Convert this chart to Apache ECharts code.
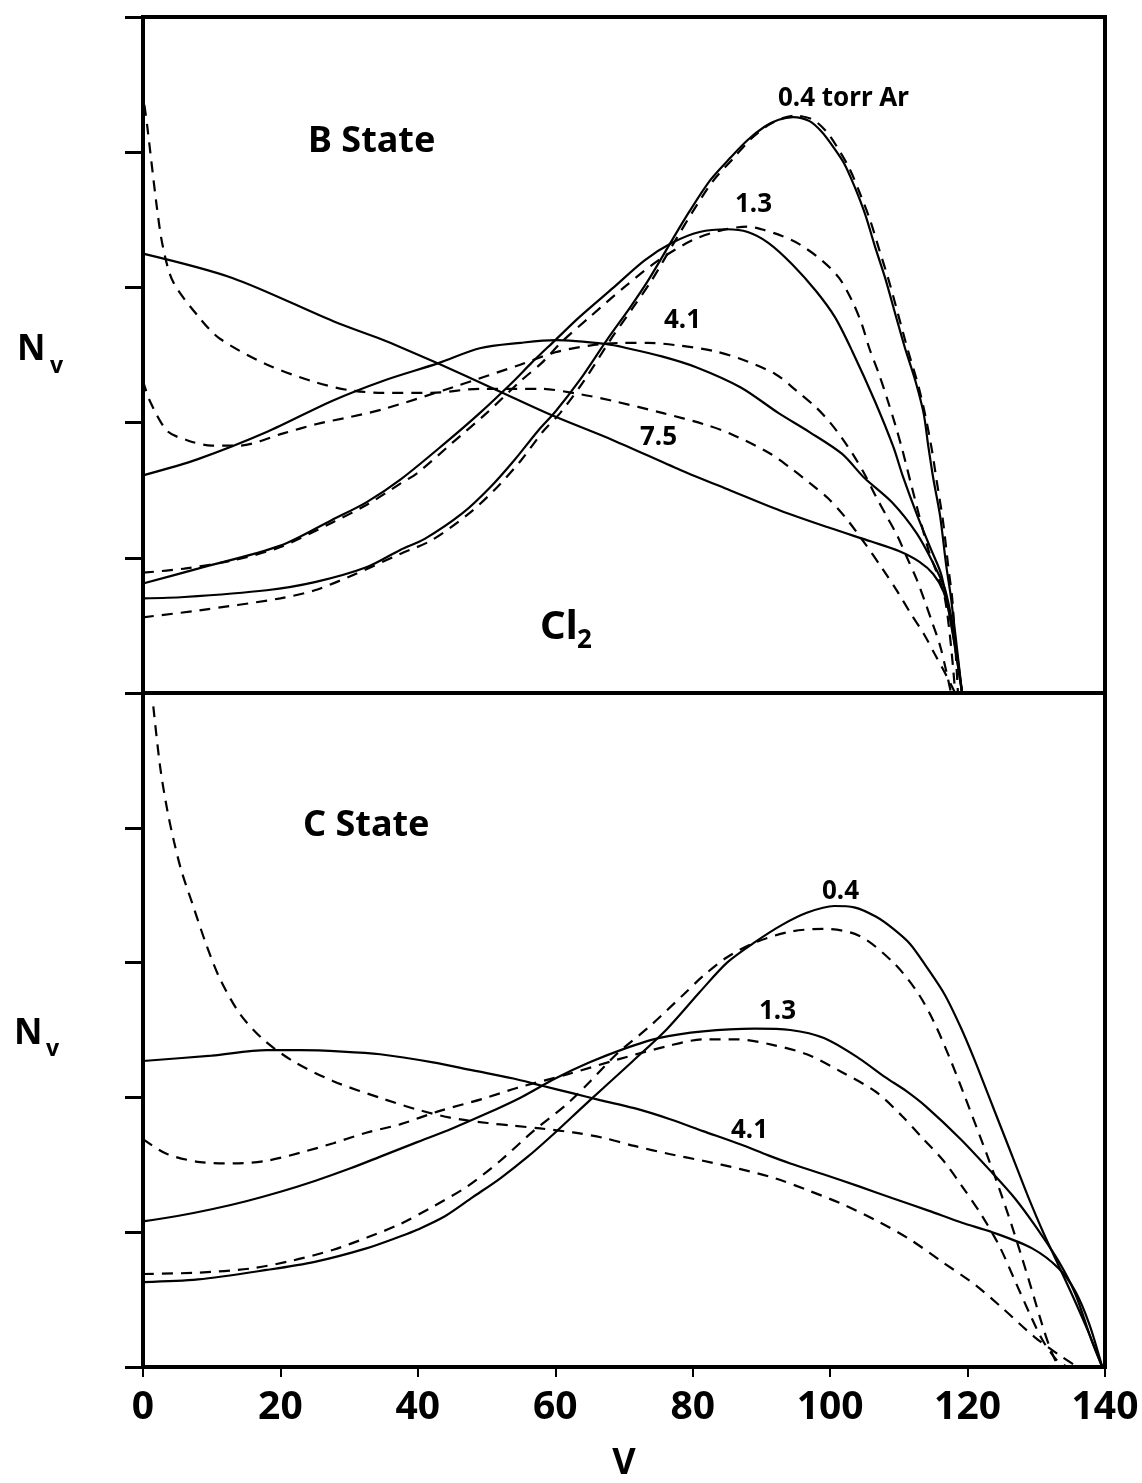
<!DOCTYPE html>
<html><head><meta charset="utf-8">
<script src="https://cdn.jsdelivr.net/npm/echarts@6/dist/echarts.min.js"></script>
<style>html,body{margin:0;padding:0;background:#fff}#c{width:1142px;height:1483px}</style>
</head><body><div id="c"></div>
<script>
// ---- axis settings ----
const xTicks = [0, 20, 40, 60, 80, 100, 120, 140];
const yTicks = [0, 1, 2, 3, 4, 5];

// ---- B State (top panel), [v, Nv] ----
const B_solid_04 = [[0,0.70],[6,0.71],[18,0.76],[25,0.82],[32.5,0.93],[37.5,1.06],[41,1.14],[46.5,1.33],[50.5,1.52],[54,1.72],[57.5,1.94],[60,2.08],[63.5,2.31],[67.5,2.61],[71,2.86],[73.5,3.05],[77,3.35],[79.5,3.56],[82.5,3.79],[85.5,3.96],[88,4.09],[90.5,4.19],[92.5,4.24],[94.6,4.26],[97,4.23],[98.8,4.15],[100.3,4.05],[102,3.92],[103.6,3.74],[105.1,3.54],[106.6,3.29],[108,3.07],[109.5,2.80],[110.9,2.55],[112.4,2.31],[113.6,2.07],[114.3,1.82],[115,1.59],[116,1.31],[116.9,0.94],[117.6,0.70],[119.2,0]];
const B_dash_04 = [[0,0.56],[8,0.61],[20,0.70],[25,0.76],[30,0.86],[37.5,1.03],[42,1.13],[47.5,1.33],[51.5,1.52],[55,1.72],[58.3,1.94],[60.7,2.07],[64.2,2.31],[68,2.61],[71.3,2.85],[74,3.05],[77.5,3.35],[80,3.56],[83,3.79],[86,3.96],[88.5,4.10],[91,4.20],[93,4.25],[95,4.27],[97.5,4.24],[99.5,4.15],[101,4.04],[102.8,3.88],[104.3,3.70],[105.8,3.50],[107.2,3.27],[108.6,3.04],[110,2.78],[111.4,2.52],[112.8,2.28],[113.9,2.04],[114.8,1.80],[115.5,1.57],[116.4,1.28],[117.2,0.93],[117.8,0.68],[118.6,0]];
const B_solid_13 = [[0,0.81],[8,0.92],[20,1.09],[27.5,1.28],[32.5,1.41],[37.5,1.58],[44,1.85],[49,2.07],[54,2.31],[56.5,2.44],[60,2.61],[63.5,2.78],[68.5,3.00],[73,3.20],[77,3.33],[81,3.41],[85,3.43],[88,3.41],[91,3.33],[94.5,3.17],[98,2.97],[100.7,2.78],[103.2,2.53],[106.5,2.16],[109.2,1.82],[110.6,1.60],[112.7,1.31],[114.7,1.06],[116.2,0.87],[117.8,0.45],[119.2,0]];
const B_dash_13 = [[0,0.89],[6,0.92],[13,0.98],[20,1.08],[27.5,1.26],[32.5,1.39],[37.5,1.55],[40,1.63],[45,1.85],[50,2.07],[55,2.31],[58,2.44],[61,2.60],[65,2.78],[70,3.00],[75,3.20],[80,3.35],[84,3.42],[88,3.45],[90,3.43],[93,3.38],[95.5,3.32],[98.8,3.20],[101.3,3.07],[103.2,2.90],[104.6,2.73],[105.7,2.55],[107.1,2.36],[108.4,2.16],[109.5,1.98],[110.5,1.80],[111.8,1.54],[114.3,1.06],[116.7,0.70],[118.2,0]];
const B_solid_41 = [[0,1.61],[8,1.73],[18,1.93],[27.5,2.16],[35,2.31],[43,2.44],[49,2.55],[55,2.59],[60,2.61],[67.5,2.58],[70.5,2.55],[75.5,2.49],[80.5,2.41],[87,2.26],[92.5,2.07],[97,1.93],[101.7,1.77],[105,1.59],[109,1.41],[112.6,1.18],[115.1,0.95],[116.7,0.77],[118,0.45],[119.2,0]];
const B_dash_41 = [[0,2.31],[1,2.16],[3.5,1.94],[6.4,1.87],[10,1.83],[14,1.83],[20.4,1.92],[25.3,1.99],[30,2.04],[35,2.10],[45,2.26],[55,2.43],[60,2.52],[65,2.57],[70,2.59],[73.5,2.59],[78,2.57],[83,2.53],[87,2.47],[92,2.36],[95,2.24],[98,2.11],[100,2.00],[101.8,1.88],[103.5,1.75],[105,1.62],[106.7,1.45],[108.2,1.31],[109.8,1.16],[111.2,1.00],[112.6,0.84],[113.7,0.69],[114.8,0.53],[116,0.35],[116.9,0.16],[117.6,0]];
const B_solid_75 = [[0,3.25],[13,3.07],[27.7,2.75],[34.5,2.62],[37.4,2.56],[42.8,2.44],[51.5,2.24],[59.7,2.05],[68.4,1.87],[78.2,1.65],[85.4,1.50],[92.7,1.35],[100,1.22],[106,1.12],[110,1.05],[113,0.97],[115,0.88],[116.5,0.75],[117.5,0.55],[119.2,0]];
const B_dash_75 = [[0.2,4.35],[0.6,4.20],[2,3.60],[2.9,3.30],[4.4,3.04],[8.3,2.77],[11.2,2.62],[18,2.43],[25,2.30],[30,2.24],[35,2.22],[42,2.22],[49,2.25],[57.8,2.25],[63.6,2.21],[68.4,2.16],[75.7,2.07],[81.5,1.99],[85.4,1.92],[91.3,1.77],[94.6,1.65],[97.1,1.55],[99.7,1.44],[102.2,1.30],[105,1.11],[107.6,0.92],[109.8,0.75],[111.7,0.59],[113.6,0.44],[115.2,0.29],[116.7,0.15],[118.2,0]];

// ---- C State (bottom panel), [v, Nv] ----
const C_solid_04 = [[0,0.63],[8,0.65],[18,0.72],[25,0.78],[32.5,0.88],[37.5,0.97],[40,1.02],[44,1.12],[48,1.26],[52,1.40],[56,1.56],[60,1.74],[64,1.93],[67,2.07],[71.3,2.27],[76.3,2.51],[81,2.78],[85,3.00],[89,3.15],[93,3.28],[96.6,3.37],[100.6,3.42],[103.5,3.41],[106.7,3.34],[109.2,3.25],[111.6,3.14],[114,2.97],[116.7,2.76],[119,2.52],[121,2.28],[123,2.02],[125,1.76],[127,1.50],[129,1.24],[131,1.00],[133,0.78],[135,0.56],[137.5,0.27],[139.6,0]];
const C_dash_04 = [[0,0.69],[8,0.70],[15.6,0.73],[21.8,0.79],[27.7,0.87],[32.6,0.96],[37.4,1.06],[42.2,1.19],[47.2,1.34],[52,1.53],[56.8,1.75],[61.7,1.95],[65.1,2.12],[68.9,2.32],[73.8,2.53],[78.6,2.76],[81.5,2.90],[85,3.04],[89.1,3.15],[94.2,3.23],[99.1,3.25],[104.2,3.20],[109.2,3.00],[112.7,2.78],[115.1,2.56],[117.5,2.28],[119.5,2.02],[121.3,1.78],[123,1.55],[124.7,1.31],[126.3,1.07],[127.8,0.83],[129.3,0.58],[130.7,0.34],[132,0.14],[133.2,0]];
const C_solid_13 = [[0,1.08],[5,1.12],[10,1.17],[15,1.23],[20,1.30],[25,1.38],[30,1.47],[35,1.57],[40,1.67],[45,1.77],[50,1.88],[55,2.00],[60,2.14],[65,2.26],[70,2.36],[75,2.44],[81.5,2.49],[89,2.51],[94.2,2.50],[99.1,2.44],[104.2,2.29],[108,2.15],[111,2.05],[114,1.93],[119,1.69],[123.6,1.44],[126.9,1.25],[129.8,1.05],[133.3,0.78],[135.7,0.54],[138.1,0.19],[139.6,0]];
const C_dash_13 = [[0,1.69],[3.5,1.58],[8.3,1.52],[13.1,1.51],[18,1.53],[22.9,1.59],[27.7,1.66],[32.6,1.74],[37.4,1.80],[43.2,1.90],[49.5,1.99],[54.4,2.07],[61.7,2.17],[69,2.28],[76.3,2.38],[81.5,2.43],[86.6,2.43],[91.6,2.39],[96.6,2.32],[101.6,2.19],[106.7,2.04],[110.5,1.86],[113.4,1.70],[116.5,1.53],[119.2,1.34],[122,1.13],[124.6,0.90],[126.9,0.64],[129,0.40],[130.9,0.20],[133,0.05],[134.5,0]];
const C_solid_41 = [[0,2.27],[10,2.31],[18,2.35],[22.9,2.35],[29,2.34],[34.5,2.32],[42.2,2.26],[48,2.20],[53.9,2.14],[57.8,2.09],[62.6,2.03],[66.5,1.98],[71.5,1.92],[76.6,1.84],[81.5,1.75],[87,1.65],[91,1.57],[94.2,1.51],[99,1.43],[104.2,1.34],[109.2,1.25],[114.3,1.16],[119.2,1.07],[123.6,1.00],[129.4,0.88],[133.3,0.73],[135.7,0.56],[137.7,0.32],[139.6,0]];
const C_dash_41 = [[1.5,4.90],[2.5,4.45],[3.5,4.14],[4.5,3.90],[5.6,3.68],[7.3,3.42],[9.3,3.12],[11.2,2.88],[14.1,2.62],[17.5,2.43],[21.8,2.27],[27.7,2.12],[34.9,1.99],[39.9,1.91],[44.7,1.85],[50.1,1.81],[53.9,1.79],[57.8,1.77],[62.6,1.74],[67,1.70],[71.5,1.64],[76.6,1.58],[81.5,1.53],[86.8,1.47],[92,1.40],[96.8,1.31],[101.7,1.21],[106.6,1.09],[111.5,0.95],[116.3,0.78],[121.1,0.61],[125,0.44],[129.8,0.22],[133.3,0.09],[136,0]];

// ---- text ----
const panelTitles = ['B State', 'C State'];
const curveLabelsB = ['0.4 torr Ar', '1.3', '4.1', '7.5'];
const curveLabelsC = ['0.4', '1.3', '4.1'];

const FONT = '"Noto Sans", "DejaVu Sans", sans-serif';
const chart = echarts.init(document.getElementById('c'), null, {renderer: 'canvas'});

function mk(name, data, dashed, gi) {
  return {
    type: 'line', name: name, data: data, xAxisIndex: gi, yAxisIndex: gi,
    symbol: 'none', smooth: 0.3, silent: true,
    lineStyle: {color: '#000', width: 2.2, type: dashed ? [11, 8] : 'solid'}
  };
}

const series = [
  mk('B 0.4 solid', B_solid_04, false, 0), mk('B 0.4 dashed', B_dash_04, true, 0),
  mk('B 1.3 solid', B_solid_13, false, 0), mk('B 1.3 dashed', B_dash_13, true, 0),
  mk('B 4.1 solid', B_solid_41, false, 0), mk('B 4.1 dashed', B_dash_41, true, 0),
  mk('B 7.5 solid', B_solid_75, false, 0), mk('B 7.5 dashed', B_dash_75, true, 0),
  mk('C 0.4 solid', C_solid_04, false, 1), mk('C 0.4 dashed', C_dash_04, true, 1),
  mk('C 1.3 solid', C_solid_13, false, 1), mk('C 1.3 dashed', C_dash_13, true, 1),
  mk('C 4.1 solid', C_solid_41, false, 1), mk('C 4.1 dashed', C_dash_41, true, 1)
];

function yAx(gi) {
  return {
    gridIndex: gi, type: 'value', min: yTicks[0], max: yTicks[yTicks.length - 1], interval: 1,
    axisLine: {show: false}, axisLabel: {show: false}, splitLine: {show: false},
    axisTick: {show: true, length: 18, lineStyle: {color: '#000', width: 3}}
  };
}

function txt(text, x, y, size, weight) {
  return {
    type: 'text', x: x, y: y, silent: true,
    style: {text: text, fill: '#000', font: (weight || 'bold') + ' ' + size + 'px ' + FONT, align: 'left', verticalAlign: 'middle'}
  };
}

chart.setOption({
  animation: false,
  backgroundColor: '#fff',
  grid: [
    {left: 143, top: 17, width: 962, height: 676, show: true, borderColor: '#000', borderWidth: 4, backgroundColor: 'transparent'},
    {left: 143, top: 693, width: 962, height: 683, show: true, borderColor: '#000', borderWidth: 4, backgroundColor: 'transparent'}
  ],
  xAxis: [
    {gridIndex: 0, type: 'value', min: xTicks[0], max: xTicks[xTicks.length - 1], interval: 20,
     axisLine: {show: false}, axisTick: {show: false}, axisLabel: {show: false}, splitLine: {show: false}},
    {gridIndex: 1, type: 'value', min: xTicks[0], max: xTicks[xTicks.length - 1], interval: 20,
     axisLine: {show: false}, splitLine: {show: false},
     axisTick: {show: true, length: 10, lineStyle: {color: '#000', width: 2}},
     axisLabel: {color: '#000', fontSize: 39, fontWeight: 'bold', fontFamily: FONT, margin: 21},
     name: 'V', nameLocation: 'middle', nameGap: 79,
     nameTextStyle: {color: '#000', fontSize: 36, fontWeight: 'bold', fontFamily: FONT}}
  ],
  yAxis: [yAx(0), yAx(1)],
  series: series,
  graphic: [
    txt(panelTitles[0], 308, 142, 36),
    txt(panelTitles[1], 303, 826, 36),
    txt('N', 17, 350, 35), txt('v', 50, 366, 23),
    txt('N', 14, 1034, 35), txt('v', 46, 1049, 23),
    txt('Cl', 540, 628, 40), txt('2', 577, 641, 26),
    txt(curveLabelsB[0], 778, 99, 26),
    txt(curveLabelsB[1], 735, 205, 26),
    txt(curveLabelsB[2], 664, 321, 26),
    txt(curveLabelsB[3], 640, 438, 26),
    txt(curveLabelsC[0], 822, 892, 26),
    txt(curveLabelsC[1], 759, 1012, 26),
    txt(curveLabelsC[2], 731, 1131, 26)
  ]
});
</script></body></html>
